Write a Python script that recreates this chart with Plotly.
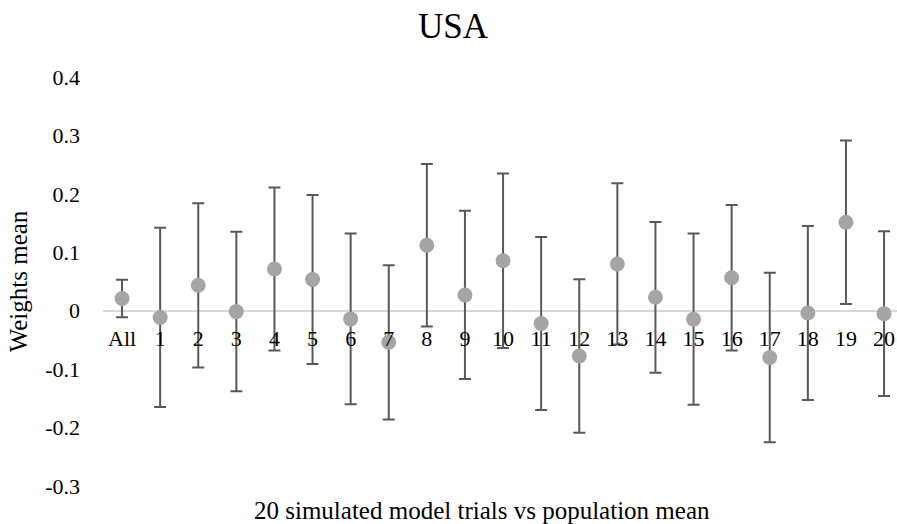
import plotly.graph_objects as go

categories = ["All"] + [str(i) for i in range(1, 21)]
means = [0.021, -0.0115, 0.0435, -0.0015, 0.0715, 0.0535, -0.014, -0.054, 0.112, 0.027,
         0.0855, -0.022, -0.0775, 0.080, 0.023, -0.0145, 0.0565, -0.080, -0.004, 0.1515, -0.005]
errors = [0.032, 0.1535, 0.1405, 0.1365, 0.1395, 0.1445, 0.146, 0.132, 0.139, 0.144,
          0.1495, 0.148, 0.1315, 0.138, 0.129, 0.1465, 0.1245, 0.145, 0.149, 0.140, 0.141]
ytick_vals = [-0.3, -0.2, -0.1, 0, 0.1, 0.2, 0.3, 0.4]
ytick_text = ["-0.3", "-0.2", "-0.1", "0", "0.1", "0.2", "0.3", "0.4"]

FONT = "Liberation Serif, Times New Roman, serif"
xpos = list(range(len(categories)))

fig = go.Figure()
fig.add_trace(go.Scatter(
    x=xpos, y=means, mode="markers",
    marker=dict(color="#a5a5a5", size=15),
    error_y=dict(type="data", array=errors, symmetric=True,
                 color="#595959", thickness=2, width=6),
    showlegend=False,
))

W, H = 897, 524
ml, mr, mt, mb = 103, 0, 77, 38
y_lo, y_hi = -0.3, 0.4
zero_pos = (0 - y_lo) / (y_hi - y_lo)

fig.update_layout(
    width=W, height=H,
    margin=dict(l=ml, r=mr, t=mt, b=mb),
    paper_bgcolor="white", plot_bgcolor="white",
    font=dict(family=FONT, color="#000000"),
    title=dict(text="USA", x=453 / W, xanchor="center", y=1 - 26 / H, yanchor="middle",
               font=dict(size=35, family=FONT, color="#000000")),
    xaxis=dict(
        range=[-0.5, 20.34], tickvals=xpos, ticktext=categories,
        showgrid=False, zeroline=False, showline=False,
        anchor="free", position=zero_pos,
        ticks="", ticklabelstandoff=12,
        tickfont=dict(size=22, family=FONT, color="#000000"),
    ),
    yaxis=dict(
        range=[y_lo, y_hi], tickvals=ytick_vals, ticktext=ytick_text,
        showgrid=False, zeroline=True, zerolinecolor="#d9d9d9", zerolinewidth=1.5,
        showline=False, ticks="", ticklabelstandoff=22,
        tickfont=dict(size=22, family=FONT, color="#000000"),
        title=dict(text="Weights mean", standoff=10,
                   font=dict(size=25, family=FONT, color="#000000")),
    ),
    annotations=[dict(
        text="20 simulated model trials vs population mean",
        xref="paper", yref="paper",
        x=(482 - ml) / (W - ml - mr), xanchor="center",
        y=-(510 - (H - mb)) / (H - mt - mb), yanchor="middle",
        showarrow=False, font=dict(size=25, family=FONT, color="#000000"),
    )],
)

fig.write_html("out.html")
